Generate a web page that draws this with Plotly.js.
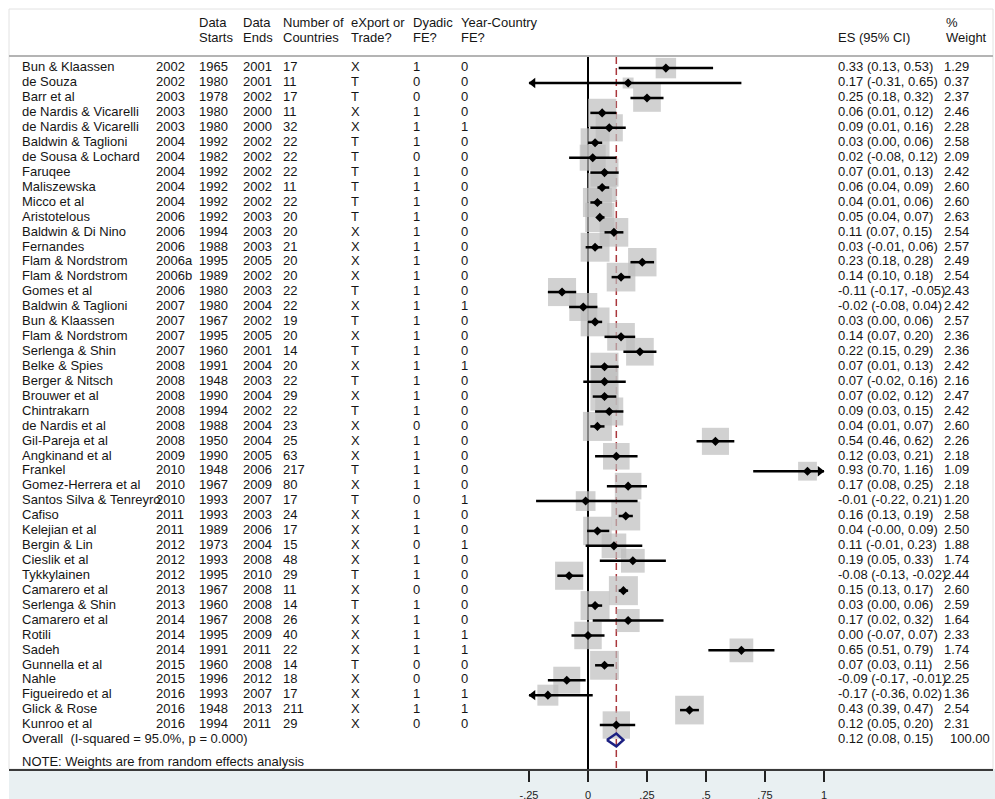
<!DOCTYPE html>
<html>
<head>
<meta charset="utf-8">
<script src="https://cdn.plot.ly/plotly-3.0.1.min.js"></script>
<style>html,body{margin:0;padding:0;background:#fff;}#chart{width:995px;height:799px;}</style>
</head>
<body>
<div id="chart"></div>
<script>
// ---------------- DATA ----------------
const studies = ['Bun & Klaassen','de Souza','Barr et al','de Nardis & Vicarelli','de Nardis & Vicarelli','Baldwin & Taglioni','de Sousa & Lochard','Faruqee','Maliszewska','Micco et al','Aristotelous','Baldwin & Di Nino','Fernandes','Flam & Nordstrom','Flam & Nordstrom','Gomes et al','Baldwin & Taglioni','Bun & Klaassen','Flam & Nordstrom','Serlenga & Shin','Belke & Spies','Berger & Nitsch','Brouwer et al','Chintrakarn','de Nardis et al','Gil-Pareja et al','Angkinand et al','Frankel','Gomez-Herrera et al','Santos Silva & Tenreyro','Cafiso','Kelejian et al','Bergin & Lin','Cieslik et al','Tykkylainen','Camarero et al','Serlenga & Shin','Camarero et al','Rotili','Sadeh','Gunnella et al','Nahle','Figueiredo et al','Glick & Rose','Kunroo et al'];
const pubYear = ['2002','2002','2003','2003','2003','2004','2004','2004','2004','2004','2006','2006','2006','2006a','2006b','2006','2007','2007','2007','2007','2008','2008','2008','2008','2008','2008','2009','2010','2010','2010','2011','2011','2012','2012','2012','2013','2013','2014','2014','2014','2015','2015','2016','2016','2016'];
const dataStarts = [1965,1980,1978,1980,1980,1992,1982,1992,1992,1992,1992,1994,1988,1995,1989,1980,1980,1967,1995,1960,1991,1948,1990,1994,1988,1950,1990,1948,1967,1993,1993,1989,1973,1993,1995,1967,1960,1967,1995,1991,1960,1996,1993,1948,1994];
const dataEnds = [2001,2001,2002,2000,2000,2002,2002,2002,2002,2002,2003,2003,2003,2005,2002,2003,2004,2002,2005,2001,2004,2003,2004,2002,2004,2004,2005,2006,2009,2007,2003,2006,2004,2008,2010,2008,2008,2008,2009,2011,2008,2012,2007,2013,2011];
const nCountries = [17,11,17,11,32,22,22,22,11,22,20,20,21,20,20,22,22,19,20,14,20,22,29,22,23,25,63,217,80,17,24,17,15,48,29,11,14,26,40,22,14,18,17,211,29];
const exportOrTrade = ['X','T','T','X','X','T','T','T','T','T','T','X','X','X','X','T','X','T','X','T','X','T','X','T','X','X','X','T','X','T','X','X','X','X','T','X','T','X','X','X','T','X','X','X','X'];
const dyadicFE = [1,0,0,1,1,1,0,1,1,1,1,1,1,1,1,1,1,1,1,1,1,1,1,1,0,1,1,1,1,0,1,1,0,1,1,0,1,1,1,1,0,0,1,1,0];
const yearCountryFE = [0,0,0,0,1,0,0,0,0,0,0,0,0,0,0,0,1,0,0,0,1,0,0,0,0,0,0,0,0,1,0,0,1,0,0,0,0,0,1,1,0,0,1,1,0];
const es = [0.33,0.17,0.25,0.06,0.09,0.03,0.02,0.07,0.06,0.04,0.05,0.11,0.03,0.23,0.14,-0.11,-0.02,0.03,0.14,0.22,0.07,0.07,0.07,0.09,0.04,0.54,0.12,0.93,0.17,-0.01,0.16,0.04,0.11,0.19,-0.08,0.15,0.03,0.17,0.00,0.65,0.07,-0.09,-0.17,0.43,0.12];
const ciLow = [0.13,-0.31,0.18,0.01,0.01,0.00,-0.08,0.01,0.04,0.01,0.04,0.07,-0.01,0.18,0.10,-0.17,-0.08,0.00,0.07,0.15,0.01,-0.02,0.02,0.03,0.01,0.46,0.03,0.70,0.08,-0.22,0.13,-0.004,-0.01,0.05,-0.13,0.13,0.00,0.02,-0.07,0.51,0.03,-0.17,-0.36,0.39,0.05];
const ciHigh = [0.53,0.65,0.32,0.12,0.16,0.06,0.12,0.13,0.09,0.06,0.07,0.15,0.06,0.28,0.18,-0.05,0.04,0.06,0.20,0.29,0.13,0.16,0.12,0.15,0.07,0.62,0.21,1.16,0.25,0.21,0.19,0.09,0.23,0.33,-0.02,0.17,0.06,0.32,0.07,0.79,0.11,-0.01,0.02,0.47,0.20];
const weight = [1.29,0.37,2.37,2.46,2.28,2.58,2.09,2.42,2.60,2.60,2.63,2.54,2.57,2.49,2.54,2.43,2.42,2.57,2.36,2.36,2.42,2.16,2.47,2.42,2.60,2.26,2.18,1.09,2.18,1.20,2.58,2.50,1.88,1.74,2.44,2.60,2.59,1.64,2.33,1.74,2.56,2.25,1.36,2.54,2.31];
const overallEs = 0.12, overallLow = 0.08, overallHigh = 0.15, overallWeight = 100.00;
const iSquared = 95.0, pValue = 0.000;
const headerTop = ['Data','Data','Number of','eXport or','Dyadic','Year-Country','','%'];
const headerBottom = ['Starts','Ends','Countries','Trade?','FE?','FE?','ES (95% CI)','Weight'];
const tickVals = [-0.25,0,0.25,0.5,0.75,1];
const tickText = ['-.25','0','.25','.5','.75','1'];
const noteText = 'NOTE: Weights are from random effects analysis';
const axisMin = -0.25, axisMax = 1;

// ---------------- LAYOUT HELPERS ----------------
const PX0 = 588, PXU = 236;          // pixel of x=0, pixels per unit
const ROW0 = 68.1, ROWH = 14.93;     // pixel of first row, row height
const xu = px => (px - PX0) / PXU;
const yu = py => (py - ROW0) / ROWH;
const FONT = '"Liberation Sans", Arial, Helvetica, sans-serif';
const TXT = '#151515';
const n = studies.length;
const rows = studies.map((_, i) => i);
const overallRow = n;

function textCol(px, texts, ys, extra) {
  return Object.assign({
    type: 'scatter', mode: 'text', x: ys.map(() => xu(px)), y: ys, text: texts,
    textposition: 'middle right', textfont: {family: FONT, size: 13, color: TXT},
    hoverinfo: 'skip', showlegend: false, cliponaxis: false
  }, extra || {});
}
const f2 = v => v.toFixed(2);
const esLabels = es.map((v, i) => f2(v) + ' (' + f2(ciLow[i]) + ', ' + f2(ciHigh[i]) + ')');

const traces = [];
// weight boxes
traces.push({
  type: 'scatter', mode: 'markers', x: es, y: rows,
  marker: {symbol: 'square', color: 'rgb(190,190,190)', size: weight.map(w => 18 * Math.sqrt(w)), line: {width: 0}},
  hoverinfo: 'skip', showlegend: false
});
// CI lines (clipped to axis range)
const cx = [], cy = [];
rows.forEach(i => { cx.push(Math.max(ciLow[i], axisMin), Math.min(ciHigh[i], axisMax), null); cy.push(i, i, null); });
traces.push({type: 'scatter', mode: 'lines', x: cx, y: cy, line: {color: '#000', width: 2.5}, hoverinfo: 'skip', showlegend: false});
// point estimates
traces.push({type: 'scatter', mode: 'markers', x: es, y: rows, marker: {symbol: 'diamond', color: '#000', size: 7}, hoverinfo: 'skip', showlegend: false});
// arrows for clipped CIs
const la = rows.filter(i => ciLow[i] < axisMin), ra = rows.filter(i => ciHigh[i] > axisMax);
traces.push({type: 'scatter', mode: 'markers', x: la.map(() => axisMin + 4 / PXU), y: la, marker: {symbol: 'triangle-left', color: '#000', size: 9}, hoverinfo: 'skip', showlegend: false, cliponaxis: false});
traces.push({type: 'scatter', mode: 'markers', x: ra.map(() => axisMax - 4 / PXU), y: ra, marker: {symbol: 'triangle-right', color: '#000', size: 9}, hoverinfo: 'skip', showlegend: false, cliponaxis: false});
// overall diamond
traces.push({type: 'scatter', mode: 'lines', x: [overallLow, overallEs, overallHigh, overallEs, overallLow],
  y: [overallRow, overallRow - 0.43, overallRow, overallRow + 0.43, overallRow],
  line: {color: 'rgb(28,32,130)', width: 2.5}, hoverinfo: 'skip', showlegend: false});

// table text columns
traces.push(textCol(22, studies, rows));
traces.push(textCol(156, pubYear, rows));
traces.push(textCol(199, dataStarts.map(String), rows));
traces.push(textCol(243, dataEnds.map(String), rows));
traces.push(textCol(283, nCountries.map(String), rows));
traces.push(textCol(351, exportOrTrade, rows));
traces.push(textCol(413, dyadicFE.map(String), rows));
traces.push(textCol(461, yearCountryFE.map(String), rows));
traces.push(textCol(838, esLabels, rows));
traces.push(textCol(944, weight.map(f2), rows));
// overall row
traces.push(textCol(22, ['Overall\u00a0\u00a0(I-squared = ' + iSquared.toFixed(1) + '%, p = ' + pValue.toFixed(3) + ')'], [overallRow]));
traces.push(textCol(838, [f2(overallEs) + ' (' + f2(overallLow) + ', ' + f2(overallHigh) + ')'], [overallRow]));
traces.push(textCol(950, [f2(overallWeight)], [overallRow]));
traces.push(textCol(22, [noteText], [yu(763)]));
// headers
const hx = [199, 243, 283, 351, 413, 461, 838, 946];
headerTop.forEach((t, k) => { if (t) traces.push(textCol(hx[k], [t], [yu(24)])); });
headerBottom.forEach((t, k) => traces.push(textCol(hx[k], [t], [yu(39)])));

const yBottom = yu(769), yTop = yu(9);
const layout = {
  width: 995, height: 799,
  margin: {l: 9, r: 2, t: 9, b: 30, pad: 0},
  paper_bgcolor: '#ffffff', plot_bgcolor: '#ffffff',
  showlegend: false,
  xaxis: {
    range: [xu(9), xu(993)], showgrid: false, zeroline: false,
    showline: true, linecolor: '#3a3a3a', linewidth: 2,
    tickmode: 'array', tickvals: tickVals, ticktext: tickText,
    ticks: 'outside', ticklen: 11, tickwidth: 2, tickcolor: '#222',
    ticklabelstandoff: 4,
    tickfont: {family: FONT, size: 11, color: '#222'}, fixedrange: true
  },
  yaxis: {range: [yBottom, yTop], visible: false, fixedrange: true},
  shapes: [
    {type: 'rect', xref: 'paper', yref: 'paper', x0: 0, x1: 1.003, y0: -30 / 760, y1: 0, fillcolor: 'rgb(233,240,242)', line: {width: 0}, layer: 'below'},
    {type: 'rect', xref: 'paper', yref: 'paper', x0: 0, x1: 1, y0: 0, y1: 1, line: {color: '#e2e2e2', width: 1}, layer: 'below'},
    {type: 'line', xref: 'paper', yref: 'y', x0: 0, x1: 1, y0: yu(56), y1: yu(56), line: {color: '#b4b4b4', width: 2}, layer: 'below'},
    {type: 'line', xref: 'x', yref: 'y', x0: 0, x1: 0, y0: yu(57), y1: yBottom, line: {color: '#000', width: 2}, layer: 'below'},
    {type: 'line', xref: 'x', yref: 'y', x0: overallEs, x1: overallEs, y0: yu(57), y1: yBottom, line: {color: 'rgb(170,55,60)', width: 1.5, dash: '7px,4px'}, layer: 'below'}
  ]
};
Plotly.newPlot('chart', traces, layout, {staticPlot: true, displayModeBar: false});
</script>
</body>
</html>
